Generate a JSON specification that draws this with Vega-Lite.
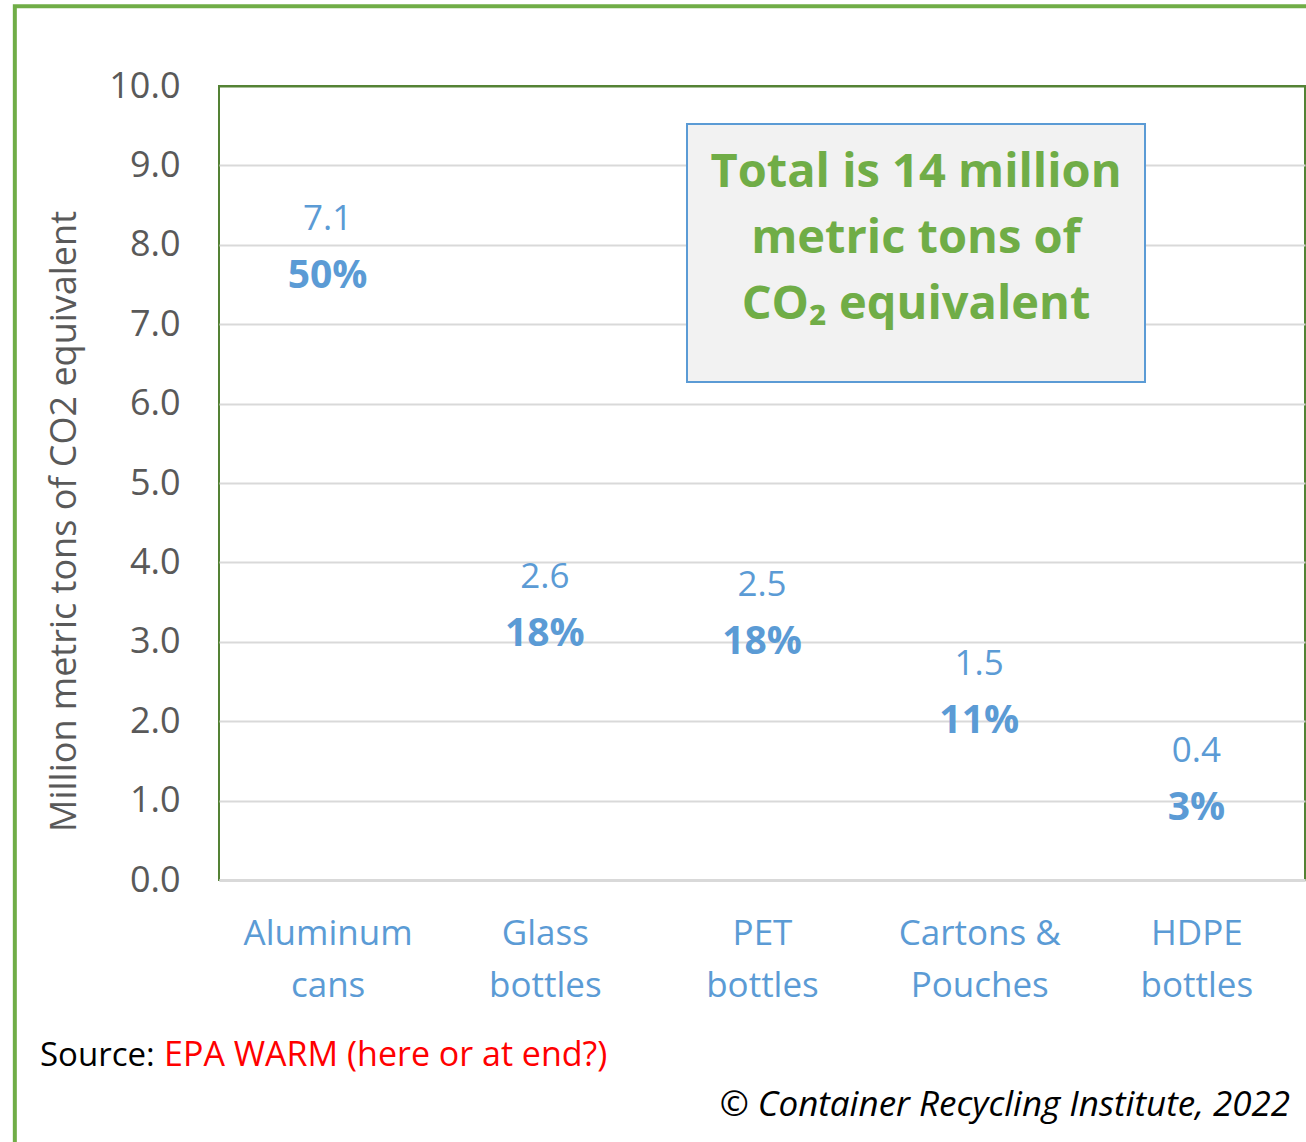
{
  "$schema": "https://vega.github.io/schema/vega-lite/v6.json",
  "width": 1086,
  "height": 794,
  "autosize": {"type": "none"},
  "padding": {"left": 219, "top": 86, "right": 1, "bottom": 262},
  "background": "white",
  "config": {
    "view": {"stroke": "#548235", "strokeWidth": 2},
    "font": "Open Sans"
  },
  "layer": [
    {
      "data": {
        "values": [
          {"container": "Aluminum cans", "value": 7.1, "share": "50%"},
          {"container": "Glass bottles", "value": 2.6, "share": "18%"},
          {"container": "PET bottles", "value": 2.5, "share": "18%"},
          {"container": "Cartons & Pouches", "value": 1.5, "share": "11%"},
          {"container": "HDPE bottles", "value": 0.4, "share": "3%"}
        ]
      },
      "encoding": {
        "x": {
          "field": "container",
          "type": "nominal",
          "sort": null,
          "scale": {"type": "point", "padding": 0.5},
          "axis": {
            "title": null,
            "labelAngle": 0,
            "labelFontSize": 35,
            "labelColor": "#5B9BD5",
            "labelLineHeight": 52,
            "labelPadding": 36,
            "labelExpr": "datum.label == 'Cartons & Pouches' ? ['Cartons &', 'Pouches'] : split(datum.label, ' ')",
            "ticks": false,
            "grid": false,
            "domainColor": "#D9D9D9",
            "domainWidth": 3
          }
        },
        "y": {
          "field": "value",
          "type": "quantitative",
          "scale": {"domain": [0, 10], "nice": false},
          "axis": {
            "title": "Million metric tons of CO2 equivalent",
            "titleFontSize": 36,
            "titleFontWeight": "normal",
            "titleColor": "#595959",
            "titlePadding": 25,
            "titleY": 435,
            "values": [0, 1, 2, 3, 4, 5, 6, 7, 8, 9, 10],
            "format": ".1f",
            "labelFontSize": 36,
            "labelColor": "#595959",
            "labelPadding": 39,
            "ticks": false,
            "domain": false,
            "grid": true,
            "gridColor": {"condition": {"test": "datum.value == 10", "value": "#548235"}, "value": "#D9D9D9"},
            "gridWidth": 2
          }
        }
      },
      "layer": [
        {
          "mark": {"type": "text", "fontSize": 35, "color": "#5B9BD5", "dy": -97, "baseline": "middle"},
          "encoding": {"text": {"field": "value", "format": ".1f"}}
        },
        {
          "mark": {"type": "text", "fontSize": 39, "fontWeight": "bold", "color": "#5B9BD5", "dy": -40, "baseline": "middle"},
          "encoding": {"text": {"field": "share"}}
        }
      ]
    },
    {
      "data": {"values": [{}]},
      "layer": [
        {
          "mark": {"type": "rect", "fill": null, "fillOpacity": 0, "stroke": "#70AD47", "strokeWidth": 4},
          "encoding": {
            "x": {"datum": -0.94, "type": "quantitative", "scale": {"domain": [0, 5], "nice": false, "zero": false}, "axis": null},
            "x2": {"datum": 6},
            "y": {"datum": 11.004, "type": "quantitative", "scale": {"domain": [0, 10], "nice": false}, "axis": null},
            "y2": {"datum": -5}
          }
        },
        {
          "mark": {"type": "rect", "fill": "#F2F2F2", "stroke": "#5B9BD5", "strokeWidth": 2},
          "encoding": {
            "x": {"datum": 2.1547, "type": "quantitative"},
            "x2": {"datum": 4.2634},
            "y": {"datum": 9.521, "type": "quantitative"},
            "y2": {"datum": 6.272}
          }
        },
        {
          "mark": {"type": "text", "text": ["Total is 14 million", "metric tons of", "CO₂ equivalent"], "fontSize": 47, "fontWeight": "bold", "color": "#70AD47", "lineHeight": 66, "align": "center", "baseline": "middle"},
          "encoding": {
            "x": {"datum": 3.209, "type": "quantitative"},
            "y": {"datum": 8.904, "type": "quantitative"}
          }
        },
        {
          "mark": {"type": "text", "text": "Source:", "fontSize": 33, "color": "black", "align": "left", "baseline": "middle"},
          "encoding": {
            "x": {"datum": -0.824, "type": "quantitative"},
            "y": {"datum": -2.217, "type": "quantitative"}
          }
        },
        {
          "mark": {"type": "text", "text": "EPA WARM (here or at end?)", "fontSize": 34, "color": "#FF0000", "align": "left", "baseline": "middle"},
          "encoding": {
            "x": {"datum": -0.253, "type": "quantitative"},
            "y": {"datum": -2.217, "type": "quantitative"}
          }
        },
        {
          "mark": {"type": "text", "text": "© Container Recycling Institute, 2022", "fontSize": 35, "fontStyle": "italic", "color": "black", "align": "right", "baseline": "middle"},
          "encoding": {
            "x": {"datum": 4.931, "type": "quantitative"},
            "y": {"datum": -2.834, "type": "quantitative"}
          }
        }
      ]
    }
  ],
  "resolve": {"scale": {"x": "independent", "y": "independent"}}
}
